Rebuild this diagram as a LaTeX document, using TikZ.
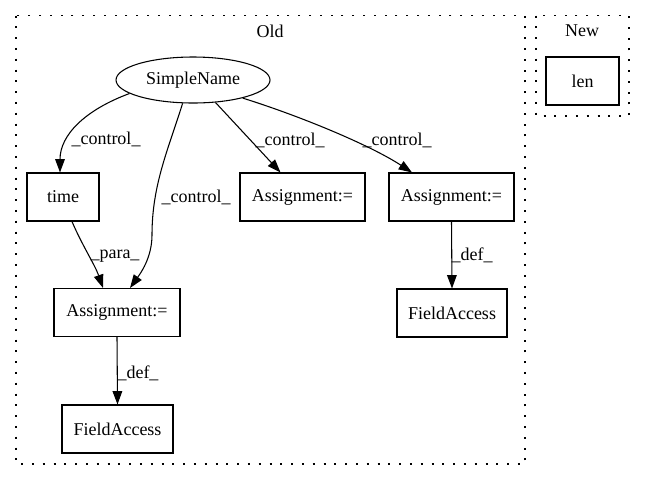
\documentclass[tikz,border=0pt]{standalone}
\usepackage{fontspec}
\setmainfont{Liberation Serif}
\usetikzlibrary{arrows.meta,calc,shapes.geometric}

\begin{document}
\begin{tikzpicture}[
  x=0.75pt, y=-0.75pt,
  font=\fontsize{13.5pt}{15pt}\selectfont,
  cluster/.style={draw, line width=1pt, dash pattern=on 1.5pt off 6.6pt},
  box/.style={draw, line width=0.8pt, rectangle, inner sep=0pt, minimum height=36pt},
  oval/.style={draw, line width=0.8pt, ellipse, inner sep=0pt, minimum width=115.5pt, minimum height=34.5pt},
  edge/.style={line width=0.8pt, -{Triangle[length=10pt, width=7.2pt]}},
  lbl/.style={inner sep=0pt, anchor=center}
]
\useasboundingbox (0,0) rectangle (645,480);

% clusters
\draw[cluster] (16,15.5) rectangle (525,464);
\node[lbl] (oldtitle) at (270,31) {Old};
\draw[cluster] (536,15.5) rectangle (629,116);
\node[lbl] (newtitle) at (582,31) {New};

% nodes
\node[oval] (sn) at (193,80) {SimpleName};
\node[box, minimum width=54pt] (time) at (63,197) {time};
\node[box, minimum width=93.75pt] (asg2) at (302.5,197) {Assignment:=};
\node[box, minimum width=93.75pt] (asg3) at (451.5,197) {Assignment:=};
\node[box, minimum width=94.5pt] (asg1) at (117,312.5) {Assignment:=};
\node[box, minimum width=82.5pt] (fa2) at (452,313) {FieldAccess};
\node[box, minimum width=83.25pt] (fa1) at (117.5,429) {FieldAccess};
\node[box, minimum width=54.75pt] (len) at (582.5,81) {len};

% connectors
\draw[edge] (sn.192) .. controls (85,110) and (60,135) .. ($(time.north)+(-3,0)$)
  node[lbl] (c1) at (106,139) {\_control\_};
\draw[edge] (sn.246) .. controls (168,150) and (152,185) .. (152,235)
  .. controls (152,258) and (140,274) .. ($(asg1.north)+(13,0)$)
  node[lbl] (c2) at (196,197) {\_control\_};
\draw[edge] ($(time.south)+(9,0)$) .. controls (82,245) and (95,265) .. ($(asg1.north)+(-14,0)$)
  node[lbl] (p1) at (115,256) {\_para\_};
\draw[edge] (sn.315) -- ($(asg2.north)+(-22,0)$)
  node[lbl] (c3) at (290,140) {\_control\_};
\draw[edge] (sn.340) .. controls (300,116) and (370,145) .. ($(asg3.north)+(-39.5,0)$)
  node[lbl] (c4) at (397,140) {\_control\_};
\draw[edge] (asg3.south) -- (fa2.north)
  node[lbl] (d2) at (472,255) {\_def\_};
\draw[edge] (asg1.south) -- (fa1.north)
  node[lbl] (d1) at (138,373) {\_def\_};
\end{tikzpicture}
\end{document}
